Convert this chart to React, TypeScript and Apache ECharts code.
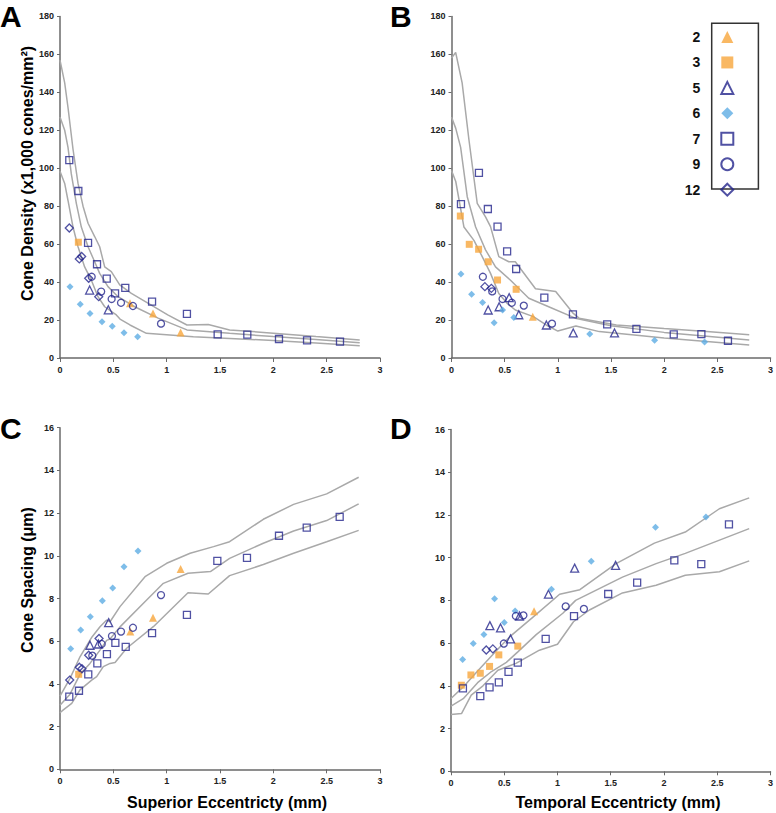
import React, { useEffect, useRef } from "react";
import * as echarts from "echarts";

// ---------- DATA ----------
const seriesNames = ["2", "3", "5", "6", "7", "9", "12"];
const xTickLabels = ["0", "0.5", "1", "1.5", "2", "2.5", "3"];

// Panel A: Superior, cone density
const A_s2 = [[0.656, 28.8], [0.872, 23.5], [1.131, 13.5]];
const A_s3 = [[0.172, 61.0]];
const A_s5 = [[0.278, 35.8], [0.453, 25.4]];
const A_s6 = [[0.094, 37.6], [0.19, 28.3], [0.281, 23.5], [0.394, 19.1], [0.49, 16.7], [0.6, 13.3], [0.728, 11.2]];
const A_s7 = [[0.087, 104.3], [0.172, 88.0], [0.263, 60.7], [0.347, 49.4], [0.438, 41.8], [0.516, 34.1], [0.612, 36.9], [0.863, 29.7], [1.19, 23.2], [1.478, 12.5], [1.756, 12.3], [2.053, 10.0], [2.316, 9.3], [2.625, 8.6]];
const A_s9 = [[0.297, 42.8], [0.386, 35.0], [0.484, 31.1], [0.572, 29.1], [0.684, 27.4], [0.947, 18.1]];
const A_s12 = [[0.087, 68.5], [0.181, 52.2], [0.203, 53.5], [0.269, 42.0], [0.363, 32.3]];
const A_upper = [[0, 157], [0.044, 145], [0.075, 132], [0.122, 110], [0.169, 92], [0.216, 80], [0.263, 71], [0.325, 64], [0.372, 58.6], [0.419, 48], [0.481, 45.5], [0.56, 38.5], [0.669, 34], [0.856, 27.9], [1.01, 22.7], [1.19, 17.4], [1.39, 17.6], [1.59, 14.8], [2.0, 13.1], [2.4, 11.3], [2.81, 9.5]];
const A_mean = [[0, 127], [0.044, 120], [0.075, 111], [0.106, 97], [0.153, 81.5], [0.2, 69], [0.263, 58.6], [0.325, 50.7], [0.372, 44.6], [0.45, 37.6], [0.544, 32.3], [0.7, 27], [0.92, 21], [1.19, 14.8], [1.59, 13], [2.0, 11.3], [2.4, 9.7], [2.81, 8.1]];
const A_lower = [[0, 98.4], [0.044, 92], [0.075, 83], [0.122, 69], [0.169, 58.6], [0.231, 48], [0.294, 41], [0.356, 32.3], [0.419, 27], [0.528, 22.7], [0.5625, 20.5], [0.656, 17.4], [0.81, 13], [1.25, 11.2], [2.0, 9.2], [2.4, 7.9], [2.81, 6.5]];

// Panel B: Temporal, cone density
const B_s2 = [[0.764, 21.8]];
const B_s3 = [[0.083, 74.8], [0.167, 59.9], [0.255, 57.3], [0.345, 50.7], [0.433, 41.1], [0.608, 36.2]];
const B_s5 = [[0.345, 25.3], [0.448, 27.0], [0.542, 31.8], [0.633, 22.8], [0.892, 17.4], [1.145, 13.2], [1.533, 13.2]];
const B_s6 = [[0.089, 44.3], [0.189, 33.6], [0.292, 29.3], [0.401, 18.6], [0.48, 25.3], [0.586, 21.4], [1.3, 12.6], [1.91, 9.3], [2.38, 8.4]];
const B_s7 = [[0.089, 81.1], [0.258, 97.5], [0.342, 78.5], [0.433, 69.2], [0.523, 56.2], [0.608, 46.9], [0.873, 31.8], [1.142, 23.0], [1.464, 17.7], [1.739, 15.3], [2.09, 12.5], [2.35, 12.6], [2.6, 9.1]];
const B_s9 = [[0.295, 42.8], [0.383, 35.1], [0.48, 31.1], [0.567, 29.1], [0.68, 27.6], [0.945, 18.1]];
const B_s12 = [[0.314, 37.6], [0.375, 36.7]];
const B_upper = [[0, 158], [0.039, 161], [0.1, 145], [0.164, 115], [0.242, 81.5], [0.32, 74.4], [0.367, 69.2], [0.445, 53.4], [0.539, 50.7], [0.6, 50.7], [0.79, 36.5], [0.98, 35], [1.14, 23.8], [1.2, 21], [1.55, 17.4], [2.0, 15.5], [2.4, 14], [2.8, 12.3]];
const B_mean = [[0, 127], [0.04, 121], [0.086, 111], [0.148, 85], [0.227, 69], [0.32, 57], [0.414, 48], [0.555, 41], [0.727, 31.5], [0.914, 27], [1.164, 21], [1.5, 17], [2.0, 13.5], [2.4, 11.5], [2.8, 9.5]];
const B_lower = [[0, 98.8], [0.04, 93], [0.117, 69], [0.211, 62], [0.289, 53.4], [0.367, 44.6], [0.445, 34], [0.523, 28.8], [0.6, 25.3], [0.77, 21.8], [0.89, 17.4], [1.0, 14.2], [1.17, 16.9], [1.39, 13.9], [2.0, 10.5], [2.4, 8.7], [2.8, 6.8]];

// Panel C: Superior, cone spacing
const C_s2 = [[0.659, 6.45], [0.872, 7.1], [1.131, 9.38]];
const C_s3 = [[0.175, 4.45]];
const C_s5 = [[0.281, 5.81], [0.36, 5.87], [0.456, 6.87]];
const C_s6 = [[0.1, 5.65], [0.194, 6.52], [0.284, 7.15], [0.397, 7.9], [0.494, 8.49], [0.6, 9.49], [0.731, 10.22]];
const C_s7 = [[0.087, 3.4], [0.178, 3.68], [0.265, 4.45], [0.35, 4.96], [0.44, 5.39], [0.519, 5.92], [0.616, 5.73], [0.863, 6.38], [1.19, 7.23], [1.475, 9.76], [1.753, 9.9], [2.053, 10.94], [2.313, 11.32], [2.622, 11.82]];
const C_s9 = [[0.303, 5.32], [0.391, 5.87], [0.487, 6.24], [0.572, 6.45], [0.684, 6.63], [0.947, 8.16]];
const C_s12 = [[0.091, 4.18], [0.181, 4.78], [0.206, 4.71], [0.269, 5.34], [0.366, 6.13]];
const C_upper = [[0, 3.43], [0.094, 4.26], [0.1875, 5.27], [0.3, 6.2], [0.375, 6.68], [0.4375, 6.99], [0.469, 6.91], [0.5625, 7.62], [0.797, 9.02], [1.0, 9.65], [1.22, 10.12], [1.44, 10.43], [1.59, 10.66], [1.906, 11.71], [2.19, 12.41], [2.5, 12.9], [2.8, 13.68]];
const C_mean = [[0, 3.0], [0.094, 3.52], [0.1875, 4.45], [0.281, 4.96], [0.375, 5.58], [0.4375, 6.04], [0.469, 6.1], [0.5625, 6.67], [0.8125, 7.93], [0.969, 8.71], [1.2, 9.18], [1.41, 9.26], [1.59, 9.88], [1.906, 10.59], [2.19, 11.16], [2.5, 11.65], [2.8, 12.43]];
const C_lower = [[0, 2.65], [0.031, 2.78], [0.11, 3.09], [0.1875, 3.72], [0.297, 4.18], [0.344, 4.34], [0.406, 4.81], [0.469, 4.96], [0.516, 5.0], [0.625, 5.67], [0.875, 6.68], [1.2, 8.27], [1.39, 8.21], [1.59, 9.07], [1.906, 9.59], [2.19, 10.12], [2.5, 10.66], [2.8, 11.19]];

// Panel D: Temporal, cone spacing
const D_s2 = [[0.78, 7.49]];
const D_s3 = [[0.097, 4.03], [0.187, 4.51], [0.275, 4.59], [0.362, 4.91], [0.449, 5.45], [0.627, 5.86]];
const D_s5 = [[0.365, 6.82], [0.465, 6.71], [0.559, 6.2], [0.643, 7.27], [0.915, 8.29], [1.161, 9.51], [1.545, 9.64]];
const D_s6 = [[0.109, 5.23], [0.209, 5.98], [0.309, 6.4], [0.409, 8.08], [0.5, 6.96], [0.602, 7.5], [0.943, 8.52], [1.317, 9.83], [1.92, 11.43], [2.394, 11.9]];
const D_s7 = [[0.112, 3.88], [0.275, 3.52], [0.362, 3.93], [0.449, 4.16], [0.54, 4.65], [0.627, 5.09], [0.889, 6.2], [1.155, 7.26], [1.476, 8.3], [1.748, 8.83], [2.097, 9.87], [2.35, 9.7], [2.61, 11.56]];
const D_s9 = [[0.496, 5.98], [0.609, 7.27], [0.68, 7.3], [1.077, 7.72], [1.248, 7.6]];
const D_s12 = [[0.331, 5.68], [0.393, 5.73]];
const D_upper = [[0, 3.41], [0.115, 3.95], [0.25, 4.7], [0.43, 5.67], [0.55, 6.29], [0.77, 7.22], [1.02, 8.29], [1.21, 8.5], [1.55, 9.72], [1.91, 10.68], [2.2, 11.2], [2.52, 12.29], [2.8, 12.8]];
const D_mean = [[0, 3.05], [0.115, 3.4], [0.25, 4.15], [0.38, 4.67], [0.52, 5.1], [0.63, 5.6], [0.8, 6.4], [1.05, 7.4], [1.17, 8.0], [1.61, 9.09], [1.926, 9.72], [2.2, 10.2], [2.8, 11.36]];
const D_lower = [[0, 2.66], [0.1, 2.71], [0.19, 3.57], [0.3, 4.0], [0.44, 4.73], [0.61, 5.05], [0.83, 5.67], [1.0, 5.95], [1.15, 7.0], [1.3, 7.55], [1.61, 8.35], [1.926, 8.71], [2.2, 9.18], [2.52, 9.34], [2.8, 9.85]];

const panelData = [
  { pts: [A_s2, A_s3, A_s5, A_s6, A_s7, A_s9, A_s12], lines: [A_upper, A_mean, A_lower] },
  { pts: [B_s2, B_s3, B_s5, B_s6, B_s7, B_s9, B_s12], lines: [B_upper, B_mean, B_lower] },
  { pts: [C_s2, C_s3, C_s5, C_s6, C_s7, C_s9, C_s12], lines: [C_upper, C_mean, C_lower] },
  { pts: [D_s2, D_s3, D_s5, D_s6, D_s7, D_s9, D_s12], lines: [D_upper, D_mean, D_lower] },
];

// ---------- STYLE ----------
const ORANGE = "#F8A63C";
const NAVY = "#24268C";
const LIGHTBLUE = "#5EADE3";
const HOLLOW = "rgba(255,255,255,0)";
const AXIS = "#6a6a6a";
const FONT = "'Liberation Sans', Arial, sans-serif";

const markStyles: any[] = [
  { symbol: "triangle", size: 8, itemStyle: { color: ORANGE } },
  { symbol: "rect", size: 7, itemStyle: { color: ORANGE } },
  { symbol: "triangle", size: 8, itemStyle: { color: HOLLOW, borderColor: NAVY, borderWidth: 1.3 } },
  { symbol: "diamond", size: 7, itemStyle: { color: LIGHTBLUE } },
  { symbol: "rect", size: 7, itemStyle: { color: HOLLOW, borderColor: NAVY, borderWidth: 1.3 } },
  { symbol: "circle", size: 7, itemStyle: { color: HOLLOW, borderColor: NAVY, borderWidth: 1.3 } },
  { symbol: "diamond", size: 8, itemStyle: { color: HOLLOW, borderColor: NAVY, borderWidth: 1.3 } },
];

const grids = [
  { left: 60, top: 16.4, width: 320, height: 341.6 },
  { left: 451.5, top: 16.4, width: 320, height: 341.6 },
  { left: 60, top: 427.7, width: 320, height: 341.6 },
  { left: 451, top: 429.5, width: 320.5, height: 341.8 },
];

function buildOption() {
  const xAxis: any[] = [];
  const yAxis: any[] = [];
  const series: any[] = [];
  const tickLabel = { fontSize: 9, fontWeight: "bold", color: "#222", fontFamily: FONT };
  grids.forEach((g, i) => {
    xAxis.push({
      gridIndex: i,
      type: "value",
      min: 0,
      max: 3,
      interval: 0.5,
      axisLine: { show: true, onZero: false, lineStyle: { color: AXIS, width: 1.5 } },
      axisTick: { show: true, length: 4, lineStyle: { color: AXIS, width: 1 } },
      axisLabel: { ...tickLabel, margin: 7, formatter: (v: number) => xTickLabels[Math.round(v * 2)] },
      splitLine: { show: false },
    });
    const isDensity = i < 2;
    yAxis.push({
      gridIndex: i,
      type: "value",
      min: 0,
      max: isDensity ? 180 : 16,
      interval: isDensity ? 20 : 2,
      axisLine: { show: true, onZero: false, lineStyle: { color: AXIS, width: 1.5 } },
      axisTick: { show: true, length: 3, lineStyle: { color: AXIS, width: 1 } },
      axisLabel: { ...tickLabel, margin: 6 },
      splitLine: { show: false },
    });
    panelData[i].lines.forEach((ln, k) => {
      series.push({
        type: "line",
        name: "curve" + i + "_" + k,
        xAxisIndex: i,
        yAxisIndex: i,
        data: ln,
        symbol: "none",
        showSymbol: false,
        silent: true,
        lineStyle: { color: "#a9a9a9", width: 1.5 },
        z: 1,
      });
    });
    panelData[i].pts.forEach((pts, k) => {
      const st = markStyles[k];
      series.push({
        type: "scatter",
        name: seriesNames[k],
        xAxisIndex: i,
        yAxisIndex: i,
        data: pts,
        symbol: st.symbol,
        symbolSize: st.size,
        itemStyle: st.itemStyle,
        z: 3,
      });
    });
  });

  const letter = (t: string, x: number, y: number) => ({
    type: "text",
    x,
    y,
    style: { text: t, font: `bold 30px ${FONT}`, fill: "#000", textAlign: "left", textVerticalAlign: "top" },
  });
  const title = (t: string, x: number, y: number, rot: number) => ({
    type: "text",
    x,
    y,
    rotation: rot,
    style: { text: t, font: `bold 16px ${FONT}`, fill: "#000", textAlign: "center", textVerticalAlign: "middle" },
  });

  return {
    animation: false,
    backgroundColor: "#ffffff",
    grid: grids.map((g) => ({ ...g, containLabel: false })),
    xAxis,
    yAxis,
    series,
    legend: {
      data: seriesNames,
      orient: "vertical",
      right: 41.7,
      top: 30,
      padding: 0,
      itemWidth: 12,
      itemHeight: 12,
      itemGap: 11.45,
      align: "right",
      selectedMode: false,
      textStyle: { fontSize: 14, fontWeight: "bold", color: "#111", fontFamily: FONT, lineHeight: 12, padding: [0, 16, 0, 0] },
    },
    graphic: [
      {
        type: "rect",
        shape: { x: 711.7, y: 23.3, width: 46.7, height: 165.7 },
        style: { fill: "none", stroke: "#333", lineWidth: 1.5 },
        z: 0,
      },
      letter("A", 0, 1),
      letter("B", 390, 1),
      letter("C", 0, 413),
      letter("D", 390, 413),
      title("Cone Density (x1,000 cones/mm²)", 27, 173.5, Math.PI / 2),
      title("Cone Spacing (μm)", 27, 580, Math.PI / 2),
      title("Superior Eccentricty (mm)", 227, 802, 0),
      title("Temporal Eccentricty (mm)", 618, 802, 0),
    ],
  };
}

export default function App() {
  const ref = useRef<HTMLDivElement>(null);
  useEffect(() => {
    if (!ref.current) return;
    const chart = echarts.init(ref.current, null, { renderer: "svg" });
    chart.setOption(buildOption() as any);
    return () => chart.dispose();
  }, []);
  return (
    <div
      ref={ref}
      style={{ position: "absolute", left: 0, top: 0, width: 776, height: 813, background: "#fff" }}
    />
  );
}
